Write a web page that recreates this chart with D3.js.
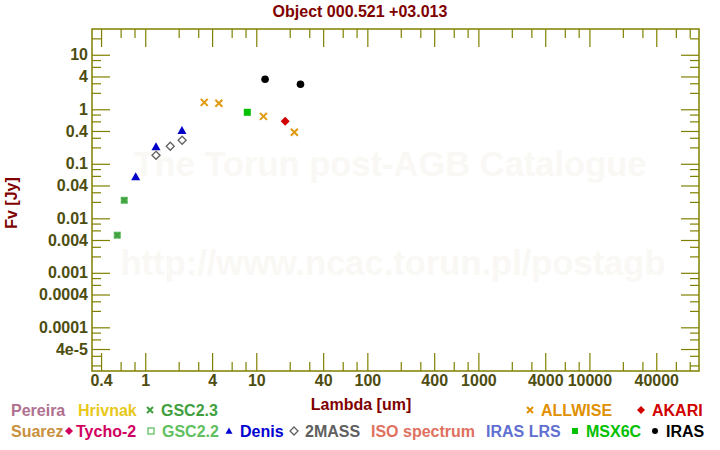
<!DOCTYPE html>
<html><head><meta charset="utf-8">
<script src="https://cdn.jsdelivr.net/npm/d3@7"></script>
<style>body{margin:0;background:#fff}svg{display:block}text{font-family:"Liberation Sans",Arial,sans-serif;font-weight:bold}</style>
</head><body>
<svg id="c" width="720" height="450"></svg>
<script>
// ---- data ----
const gscLam = [0.56, 0.647];
const gscFlux = [0.0049, 0.0214];
const denisLam = [0.82, 1.25, 2.14];
const denisFlux = [0.058, 0.206, 0.41];
const twomassLam = [1.25, 1.68, 2.15];
const twomassFlux = [0.143, 0.21, 0.27];
const allwiseLam = [3.4, 4.6, 11.6, 22.0];
const allwiseFlux = [1.34, 1.29, 0.74, 0.38];
const msxLam = [8.3];
const msxFlux = [0.88];
const akariLam = [18.2];
const akariFlux = [0.60];
const irasLam = [12.0, 25.0];
const irasFlux = [3.55, 2.88];

const xMajor = [0.4, 1, 4, 10, 40, 100, 400, 1000, 4000, 10000, 40000];
const xMinor = [0.6, 0.8, 2, 3, 6, 8, 20, 30, 60, 80, 200, 300, 600, 800, 2000, 3000, 6000, 8000, 20000, 30000, 60000, 80000];
const yMajor = [10, 4, 1, 0.4, 0.1, 0.04, 0.01, 0.004, 0.001, 0.0004, 0.0001, 4e-5];
const yMajorLabels = ["10", "4", "1", "0.4", "0.1", "0.04", "0.01", "0.004", "0.001", "0.0004", "0.0001", "4e-5"];
const yMinor = [20, 8, 6, 3, 2, 0.8, 0.6, 0.3, 0.2, 0.08, 0.06, 0.03, 0.02, 0.008, 0.006, 0.003, 0.002, 0.0008, 0.0006, 0.0003, 0.0002, 8e-5, 6e-5, 3e-5, 2e-5];

const legendRow1 = [
  {name: "Pereira", color: "#b07090", sym: null},
  {name: "Hrivnak", color: "#e8c81a", sym: null},
  {name: "GSC2.3", color: "#40a040", sym: "x"},
  {name: "ALLWISE", color: "#e09000", sym: "x"},
  {name: "AKARI", color: "#d00000", sym: "diamond"}
];
const legendRow2 = [
  {name: "Suarez", color: "#c89040", sym: null},
  {name: "Tycho-2", color: "#d00060", sym: "diamond"},
  {name: "GSC2.2", color: "#60c060", sym: "square-open"},
  {name: "Denis", color: "#0000d0", sym: "triangle"},
  {name: "2MASS", color: "#606060", sym: "diamond-open"},
  {name: "ISO spectrum", color: "#e07060", sym: null},
  {name: "IRAS LRS", color: "#6070d0", sym: null},
  {name: "MSX6C", color: "#00c000", sym: "square"},
  {name: "IRAS", color: "#000000", sym: "circle"}
];

// ---- layout ----
const svg = d3.select("#c");
const L = 92, R = 699, T = 29, B = 371;
const olive = "#808000", tickText = "#4d4d10", dark = "#800000";
const x = d3.scaleLog().domain([0.3315, 97000]).range([L, R]);
const y = d3.scaleLog().domain([1.58e-5, 29.7]).range([B, T]);

// watermark
svg.append("text").attr("x", 390).attr("y", 176).attr("text-anchor", "middle")
  .attr("font-size", 34.5).attr("fill", "#faf8f4").text("The Torun post-AGB Catalogue");
svg.append("text").attr("x", 393).attr("y", 275).attr("text-anchor", "middle")
  .attr("font-size", 34.5).attr("fill", "#faf8f4").text("http://www.ncac.torun.pl/postagb");

// title
svg.append("text").attr("x", 360).attr("y", 17).attr("text-anchor", "middle")
  .attr("font-size", 16).attr("fill", dark).text("Object 000.521 +03.013");

function styleAxis(g) {
  g.select(".domain").remove();
  g.selectAll(".tick line").attr("stroke", olive).attr("stroke-width", 1.2);
  g.selectAll(".tick text").attr("fill", tickText).attr("font-size", 16)
    .attr("font-family", "'Liberation Sans',Arial,sans-serif").attr("font-weight", "bold");
}
// bottom
svg.append("g").attr("transform", `translate(0,${B})`)
  .call(d3.axisBottom(x).tickValues(xMajor).tickSize(-18).tickPadding(4).tickFormat(d3.format("")))
  .call(styleAxis);
svg.append("g").attr("transform", `translate(0,${B})`)
  .call(d3.axisBottom(x).tickValues(xMinor).tickSize(-9).tickFormat(""))
  .call(styleAxis);
// top
svg.append("g").attr("transform", `translate(0,${T})`)
  .call(d3.axisTop(x).tickValues(xMajor).tickSize(-18).tickFormat(""))
  .call(styleAxis);
svg.append("g").attr("transform", `translate(0,${T})`)
  .call(d3.axisTop(x).tickValues(xMinor).tickSize(-9).tickFormat(""))
  .call(styleAxis);
// left
svg.append("g").attr("transform", `translate(${L},0)`)
  .call(d3.axisLeft(y).tickValues(yMajor).tickSize(-18).tickPadding(4)
    .tickFormat((d, i) => yMajorLabels[i]))
  .call(styleAxis);
svg.append("g").attr("transform", `translate(${L},0)`)
  .call(d3.axisLeft(y).tickValues(yMinor).tickSize(-9).tickFormat(""))
  .call(styleAxis);
// right
svg.append("g").attr("transform", `translate(${R},0)`)
  .call(d3.axisRight(y).tickValues(yMajor).tickSize(-18).tickFormat(""))
  .call(styleAxis);
svg.append("g").attr("transform", `translate(${R},0)`)
  .call(d3.axisRight(y).tickValues(yMinor).tickSize(-9).tickFormat(""))
  .call(styleAxis);
// frame
svg.append("rect").attr("x", L).attr("y", T).attr("width", R - L).attr("height", B - T)
  .attr("fill", "none").attr("stroke", olive).attr("stroke-width", 1.5);

// axis titles
svg.append("text").attr("x", 361).attr("y", 410).attr("text-anchor", "middle")
  .attr("font-size", 16).attr("fill", dark).text("Lambda [um]");
svg.append("text").attr("transform", "translate(17,203) rotate(-90)").attr("text-anchor", "middle")
  .attr("font-size", 16).attr("fill", dark).text("Fv [Jy]");

// ---- markers ----
function drawSym(g, type, cx, cy, color, s) {
  if (type === "x") {
    const r = s;
    g.append("path").attr("d", `M${cx - r},${cy - r}L${cx + r},${cy + r}M${cx - r},${cy + r}L${cx + r},${cy - r}`)
      .attr("stroke", color).attr("stroke-width", 2).attr("fill", "none");
  } else if (type === "diamond" || type === "diamond-open") {
    const r = s + 1;
    const p = g.append("path").attr("d", `M${cx},${cy - r}L${cx + r},${cy}L${cx},${cy + r}L${cx - r},${cy}Z`);
    if (type === "diamond") p.attr("fill", color);
    else p.attr("fill", "none").attr("stroke", color).attr("stroke-width", 1.3);
  } else if (type === "square" || type === "square-open") {
    const p = g.append("rect").attr("x", cx - s).attr("y", cy - s).attr("width", 2 * s).attr("height", 2 * s);
    if (type === "square") p.attr("fill", color);
    else p.attr("fill", "none").attr("stroke", color).attr("stroke-width", 1.3);
  } else if (type === "triangle") {
    const r = s + 0.5;
    g.append("path").attr("d", `M${cx},${cy - r}L${cx + r},${cy + r * 0.8}L${cx - r},${cy + r * 0.8}Z`).attr("fill", color);
  } else if (type === "circle") {
    g.append("circle").attr("cx", cx).attr("cy", cy).attr("r", s).attr("fill", color);
  }
}
const pts = svg.append("g");
gscLam.forEach((l, i) => {
  drawSym(pts, "square", x(l), y(gscFlux[i]), "#5cbc5c", 3.5);
  drawSym(pts, "x", x(l), y(gscFlux[i]), "#40a040", 2.5);
});
denisLam.forEach((l, i) => drawSym(pts, "triangle", x(l), y(denisFlux[i]), "#0000c8", 4));
twomassLam.forEach((l, i) => drawSym(pts, "diamond-open", x(l), y(twomassFlux[i]), "#606060", 3));
allwiseLam.forEach((l, i) => drawSym(pts, "x", x(l), y(allwiseFlux[i]), "#e09a10", 3.5));
msxLam.forEach((l, i) => drawSym(pts, "square", x(l), y(msxFlux[i]), "#00c000", 3.5));
akariLam.forEach((l, i) => drawSym(pts, "diamond", x(l), y(akariFlux[i]), "#d00000", 3.5));
irasLam.forEach((l, i) => drawSym(pts, "circle", x(l), y(irasFlux[i]), "#000000", 3.8));

// ---- legend ----
const row1X = [11, 78, 150, 530, 641];
const row2X = [11, 69, 151, 229, 294, 371, 486, 575, 655];
function legendRow(items, xs, baseline) {
  items.forEach((it, i) => {
    let tx = xs[i];
    if (it.sym) {
      drawSym(svg, it.sym, tx, baseline - 5.5, it.color, 3);
      tx += it.sym === "diamond" && it.name === "Tycho-2" ? 7 : 11;
    }
    svg.append("text").attr("x", tx).attr("y", baseline).attr("font-size", 16)
      .attr("fill", it.color).text(it.name);
  });
}
legendRow(legendRow1, row1X, 415.5);
legendRow(legendRow2, row2X, 436.5);
</script>
</body></html>
